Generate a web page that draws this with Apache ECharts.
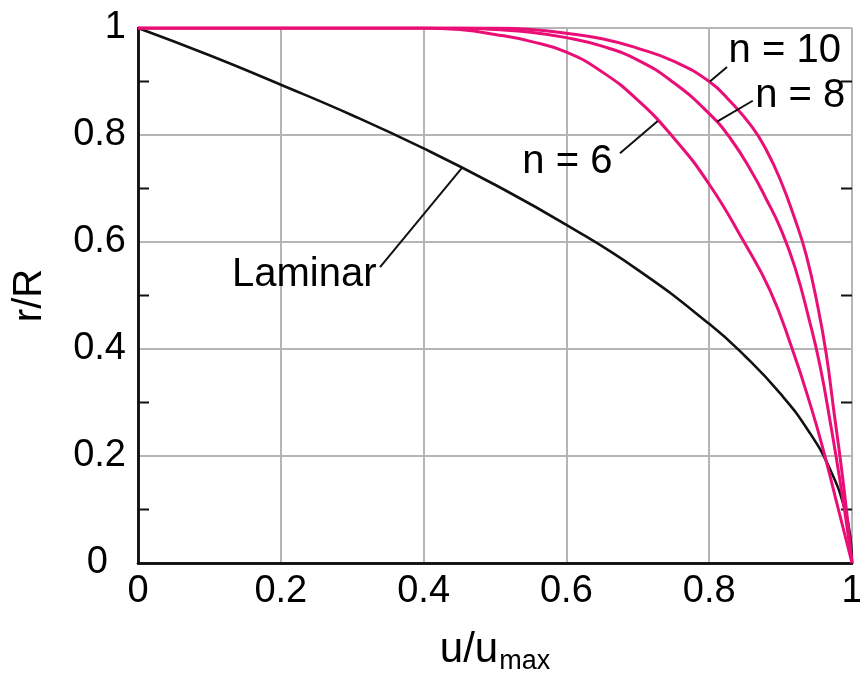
<!DOCTYPE html>
<html>
<head>
<meta charset="utf-8">
<script src="https://cdn.jsdelivr.net/npm/echarts@6/dist/echarts.min.js"></script>
<style>
  html, body { margin: 0; padding: 0; background: #fff; }
  #chart { width: 860px; height: 675px; }
</style>
</head>
<body>
<div id="chart"></div>
<script>
// velocity profile in a pipe: r/R against u/umax
const xTicks = [0, 0.2, 0.4, 0.6, 0.8, 1];
const yTicks = [0, 0.2, 0.4, 0.6, 0.8, 1];
const yMinorTicks = [0.1, 0.3, 0.5, 0.7, 0.9];

const laminar = [
  [0, 1], [0.1, 0.949], [0.2, 0.894], [0.3, 0.837], [0.4, 0.775], [0.5, 0.707],
  [0.6, 0.632], [0.7, 0.548], [0.8, 0.447], [0.85, 0.387], [0.9, 0.316],
  [0.94, 0.245], [0.97, 0.173], [0.99, 0.1], [0.998, 0.045], [1, 0]
];
const n6 = [
  [0, 1], [0.4, 1], [0.45, 0.997], [0.5, 0.988], [0.55, 0.975], [0.6, 0.955],
  [0.65, 0.918], [0.7, 0.865], [0.75, 0.795], [0.8, 0.708], [0.85, 0.597],
  [0.885, 0.51], [0.915, 0.405], [0.943, 0.29], [0.962, 0.2], [0.981, 0.1], [1, 0]
];
const n8 = [
  [0, 1], [0.45, 1], [0.5, 0.997], [0.55, 0.992], [0.6, 0.982], [0.65, 0.966],
  [0.7, 0.94], [0.75, 0.898], [0.8, 0.84], [0.83, 0.793], [0.86, 0.73],
  [0.88, 0.68], [0.9, 0.625], [0.92, 0.553], [0.94, 0.455], [0.955, 0.37],
  [0.97, 0.26], [0.98, 0.18], [0.99, 0.095], [1, 0]
];
const n10 = [
  [0, 1], [0.5, 1], [0.55, 0.997], [0.6, 0.99], [0.65, 0.98], [0.7, 0.962],
  [0.75, 0.938], [0.8, 0.9], [0.83, 0.862], [0.86, 0.815], [0.88, 0.772],
  [0.9, 0.715], [0.92, 0.643], [0.936, 0.575], [0.952, 0.48], [0.964, 0.39],
  [0.975, 0.28], [0.985, 0.18], [0.993, 0.09], [1, 0]
];

// leader lines: from label end to the curve
const callouts = [
  { text: 'Laminar', from: [0.339, 0.553], to: [0.454, 0.739] },
  { text: 'n = 6', from: [0.675, 0.766], to: [0.728, 0.826] },
  { text: 'n = 8', from: [0.861, 0.864], to: [0.811, 0.825] },
  { text: 'n = 10', from: [0.825, 0.927], to: [0.801, 0.9] }
];

const font = '"Liberation Sans", Arial, sans-serif';
const pink = '#ea0f76';
const ink = '#111';
const gridGrey = '#b5b5b5';

const labelPlace = {
  'Laminar': { position: 'left', distance: 3, offset: [0, 8] },
  'n = 6': { position: 'left', distance: 7, offset: [0, 9] },
  'n = 8': { position: 'right', distance: 2, offset: [0, -5] },
  'n = 10': { position: 'right', distance: 1, offset: [0, -16] }
};

function curve(name, data, color, width) {
  return {
    name: name,
    type: 'line',
    data: data,
    showSymbol: false,
    smooth: 0.5,
    lineStyle: { color: color, width: width },
    z: 3
  };
}

const chart = echarts.init(document.getElementById('chart'));
chart.setOption({
  animation: false,
  grid: { left: 138, right: 8, top: 28, bottom: 112, outerBoundsMode: 'none' },
  xAxis: [{
    type: 'value',
    min: xTicks[0],
    max: xTicks[xTicks.length - 1],
    interval: xTicks[1] - xTicks[0],
    position: 'bottom',
    axisLine: { lineStyle: { color: ink, width: 2.5 } },
    axisTick: { show: false },
    splitLine: { lineStyle: { color: gridGrey, width: 2 } },
    axisLabel: {
      fontSize: 38, color: '#000', fontFamily: font, margin: 10,
      showMinLabel: true, showMaxLabel: true
    },
    name: 'u/u{sub|max}',
    nameLocation: 'middle',
    nameGap: 63,
    nameTextStyle: {
      fontSize: 42, color: '#000', fontFamily: font,
      rich: {
        sub: { fontSize: 27, color: '#000', fontFamily: font, verticalAlign: 'bottom', padding: [22, 0, 0, 1] }
      }
    }
  }, {
    type: 'value',
    min: 0,
    max: 1,
    position: 'top',
    axisLine: { show: true, lineStyle: { color: ink, width: 2.5 } },
    axisTick: { show: false },
    axisLabel: { show: false },
    splitLine: { show: false }
  }],
  yAxis: [{
    type: 'value',
    min: yTicks[0],
    max: yTicks[yTicks.length - 1],
    interval: yTicks[1] - yTicks[0],
    position: 'left',
    axisLine: { show: true, lineStyle: { color: ink, width: 2.5 } },
    axisTick: { show: false },
    splitLine: { lineStyle: { color: gridGrey, width: 2 } },
    axisLabel: {
      fontSize: 38, color: '#000', fontFamily: font, margin: 12,
      showMinLabel: true, showMaxLabel: true,
      formatter: v => (v === 0 ? '{z|0}' : String(v)),
      rich: { z: { fontSize: 38, color: '#000', fontFamily: font, padding: [0, 18, 0, 0] } }
    },
    name: 'r/R',
    nameLocation: 'middle',
    nameRotate: 90,
    nameGap: 88,
    nameTextStyle: { fontSize: 40, color: '#000', fontFamily: font }
  }, {
    type: 'value',
    min: yTicks[0],
    max: yTicks[yTicks.length - 1],
    position: 'right',
    axisLine: { show: true, lineStyle: { color: ink, width: 2.5 } },
    axisTick: { show: false },
    axisLabel: { show: false },
    splitLine: { show: false }
  }],
  series: [
    curve('Laminar', laminar, ink, 2.6),
    curve('n = 6', n6, pink, 3),
    curve('n = 8', n8, pink, 3),
    curve('n = 10', n10, pink, 3),
    {
      // short inward ticks between grid lines on both frame sides
      type: 'custom',
      data: yMinorTicks.map(v => [v]),
      z: 2,
      renderItem: function (params, api) {
        const a = api.coord([xTicks[0], api.value(0)]);
        const b = api.coord([xTicks[xTicks.length - 1], api.value(0)]);
        const style = { stroke: ink, lineWidth: 2 };
        return {
          type: 'group',
          children: [
            { type: 'line', shape: { x1: a[0], y1: a[1], x2: a[0] + 11, y2: a[1] }, style: style },
            { type: 'line', shape: { x1: b[0] - 11, y1: b[1], x2: b[0], y2: b[1] }, style: style }
          ]
        };
      }
    }
  ].concat(callouts.map(c => ({
    type: 'line',
    data: [c.from, c.to],
    showSymbol: false,
    lineStyle: { color: ink, width: 2 },
    z: 4
  }))).concat([{
    type: 'scatter',
    symbolSize: 1,
    itemStyle: { color: 'transparent' },
    z: 5,
    data: callouts.map(c => ({
      value: c.from,
      label: Object.assign({
        show: true,
        formatter: c.text,
        fontSize: 40,
        color: '#000',
        opacity: 1,
        fontFamily: font
      }, labelPlace[c.text])
    }))
  }])
});
</script>
</body>
</html>
